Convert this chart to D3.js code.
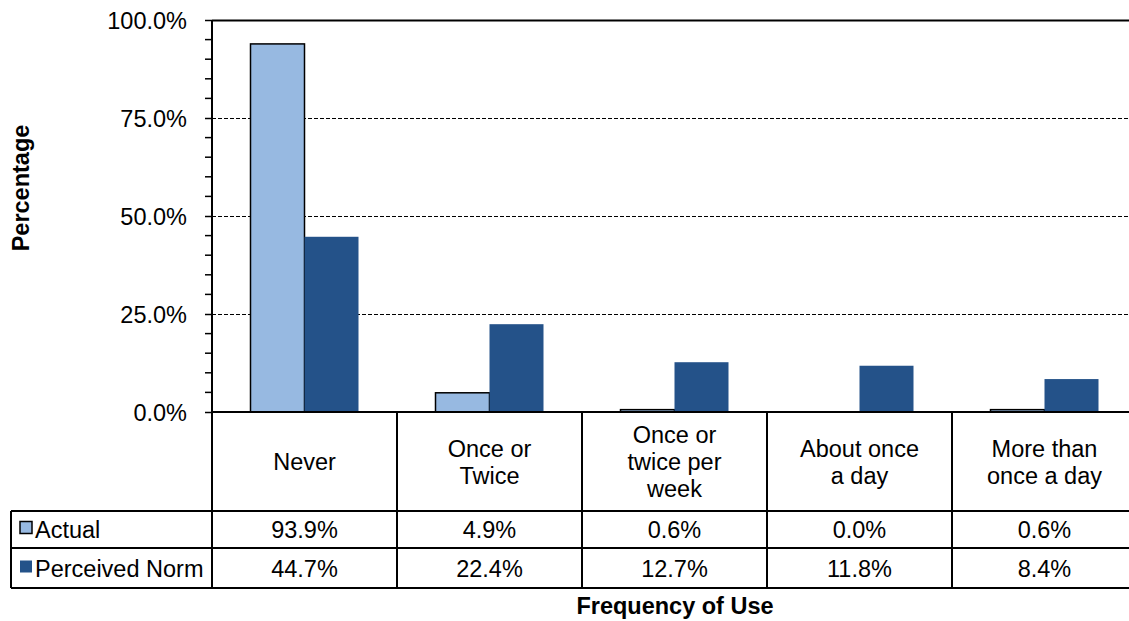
<!DOCTYPE html>
<meta charset="utf-8">
<body style="margin:0;background:#fff">
<style>
    text { font-family: "Liberation Sans", Arial, sans-serif; fill: #000; }
    .lab { font-size: 23.5px; }
    .title { font-size: 23.5px; font-weight: bold; }
</style>
<script src="https://d3js.org/d3.v7.min.js"></script>
<script>
// chart data
var categories = ["Never", "Once or Twice", "Once or twice per week", "About once a day", "More than once a day"];
var categoryLines = [["Never"], ["Once or", "Twice"], ["Once or", "twice per", "week"], ["About once", "a day"], ["More than", "once a day"]];
var seriesNames = ["Actual", "Perceived Norm"];
var actual = [93.9, 4.9, 0.6, 0.0, 0.6];
var perceived = [44.7, 22.4, 12.7, 11.8, 8.4];
var yTicks = [0, 25, 50, 75, 100];
var colors = ["#97b9e1", "#245289"];

var W = 1129, H = 621;
var plotLeft = 212, plotRight = 1137, plotTop = 20, zero = 412;
// table rows (header labels, then one row per series)
var rowEdges = [412, 511, 548, 588];
var tableLeft = 11;

var svg = d3.select("body").append("svg")
    .attr("width", W).attr("height", H);

var x0 = d3.scaleBand().domain(categories).range([plotLeft, plotRight]);
var x1 = d3.scaleBand().domain(seriesNames).range([38.5, x0.bandwidth() - 38.5]);
var y = d3.scaleLinear().domain([0, 100]).range([zero, plotTop]);

// dashed gridlines
svg.append("g").selectAll("line")
    .data(yTicks.filter(function(d) { return d > 0 && d < 100; }))
    .enter().append("line")
    .attr("x1", plotLeft).attr("x2", W)
    .attr("y1", function(d) { return y(d) + 0.5; })
    .attr("y2", function(d) { return y(d) + 0.5; })
    .attr("stroke", "#000").attr("stroke-width", 1)
    .attr("stroke-dasharray", "4,2");

// top line
svg.append("line")
    .attr("x1", plotLeft).attr("x2", W)
    .attr("y1", y(100) + 0.5).attr("y2", y(100) + 0.5)
    .attr("stroke", "#000").attr("stroke-width", 2);

// bars
var series = [actual, perceived];
var groups = svg.append("g").selectAll("g")
    .data(categories)
    .enter().append("g")
    .attr("transform", function(d) { return "translate(" + x0(d) + ",0)"; });

groups.selectAll("rect")
    .data(function(d, i) {
        return seriesNames.map(function(s, k) { return {s: s, k: k, v: series[k][i]}; });
    })
    .enter().append("rect")
    .attr("x", function(d) { return x1(d.s); })
    .attr("width", x1.bandwidth())
    .attr("y", function(d) { return y(d.v); })
    .attr("height", function(d) { return y(0) - y(d.v); })
    .attr("fill", function(d) { return colors[d.k]; })
    .attr("stroke", function(d) { return d.k === 0 ? "#000" : "none"; })
    .attr("stroke-width", 1.5);

// y axis with minor ticks every 5%
var yAxis = d3.axisLeft(y).tickValues(yTicks)
    .tickFormat(function(d) { return d3.format(".1f")(d) + "%"; })
    .tickSize(7).tickPadding(18);
var ga = svg.append("g").attr("transform", "translate(" + plotLeft + ",0)").call(yAxis);
ga.select(".domain").remove();
ga.selectAll("line").attr("stroke-width", 1.5);
ga.selectAll("text").attr("class", "lab").attr("font-size", null).attr("font-family", null)
    .attr("dy", "0.35em");
ga.attr("font-size", null).attr("font-family", null);
svg.append("g").selectAll("line")
    .data(d3.range(0, 101, 5).filter(function(d) { return d % 25 !== 0; }))
    .enter().append("line")
    .attr("x1", plotLeft - 7).attr("x2", plotLeft)
    .attr("y1", function(d) { return y(d); }).attr("y2", function(d) { return y(d); })
    .attr("stroke", "#000").attr("stroke-width", 1.5);

// axis lines
svg.append("line").attr("x1", plotLeft).attr("x2", plotLeft)
    .attr("y1", plotTop).attr("y2", rowEdges[3])
    .attr("stroke", "#000").attr("stroke-width", 2);
svg.append("line").attr("x1", plotLeft).attr("x2", W)
    .attr("y1", zero).attr("y2", zero)
    .attr("stroke", "#000").attr("stroke-width", 2);

// data table lines
svg.append("g").selectAll("line")
    .data([rowEdges[1], rowEdges[2], rowEdges[3]])
    .enter().append("line")
    .attr("x1", tableLeft).attr("x2", W)
    .attr("y1", function(d) { return d; }).attr("y2", function(d) { return d; })
    .attr("stroke", "#000").attr("stroke-width", 2);
svg.append("line").attr("x1", tableLeft).attr("x2", tableLeft)
    .attr("y1", rowEdges[1]).attr("y2", rowEdges[3])
    .attr("stroke", "#000").attr("stroke-width", 2);
svg.append("g").selectAll("line")
    .data(categories.slice(1))
    .enter().append("line")
    .attr("x1", function(d) { return x0(d); }).attr("x2", function(d) { return x0(d); })
    .attr("y1", rowEdges[0]).attr("y2", rowEdges[3])
    .attr("stroke", "#000").attr("stroke-width", 2);

// category labels
var mid = (rowEdges[0] + rowEdges[1]) / 2;
svg.append("g").selectAll("text")
    .data(categories)
    .enter().append("text")
    .attr("class", "lab")
    .attr("text-anchor", "middle")
    .each(function(d, i) {
        var lines = categoryLines[i];
        var t = d3.select(this);
        lines.forEach(function(l, j) {
            t.append("tspan")
                .attr("x", x0(d) + x0.bandwidth() / 2)
                .attr("y", mid + (j - (lines.length - 1) / 2) * 27 + 8.5)
                .text(l);
        });
    });

// value rows with legend keys
var fmt = function(v) { return d3.format(".1f")(v) + "%"; };
seriesNames.forEach(function(s, k) {
    var base = rowEdges[k + 1] + (k === 0 ? 26.5 : 28.5);
    svg.append("rect")
        .attr("x", 20).attr("y", base - 16)
        .attr("width", 12).attr("height", 12)
        .attr("fill", colors[k])
        .attr("stroke", k === 0 ? "#000" : "none").attr("stroke-width", 1.5);
    svg.append("text").attr("class", "lab")
        .attr("x", 35).attr("y", base).text(s);
    svg.append("g").selectAll("text")
        .data(series[k])
        .enter().append("text")
        .attr("class", "lab")
        .attr("text-anchor", "middle")
        .attr("x", function(d, i) { return x0(categories[i]) + x0.bandwidth() / 2; })
        .attr("y", base)
        .text(fmt);
});

// axis titles
svg.append("text").attr("class", "title")
    .attr("text-anchor", "middle")
    .attr("transform", "translate(29,188) rotate(-90)")
    .text("Percentage");
svg.append("text").attr("class", "title")
    .attr("text-anchor", "middle")
    .attr("x", 675).attr("y", 614)
    .text("Frequency of Use");
</script>
